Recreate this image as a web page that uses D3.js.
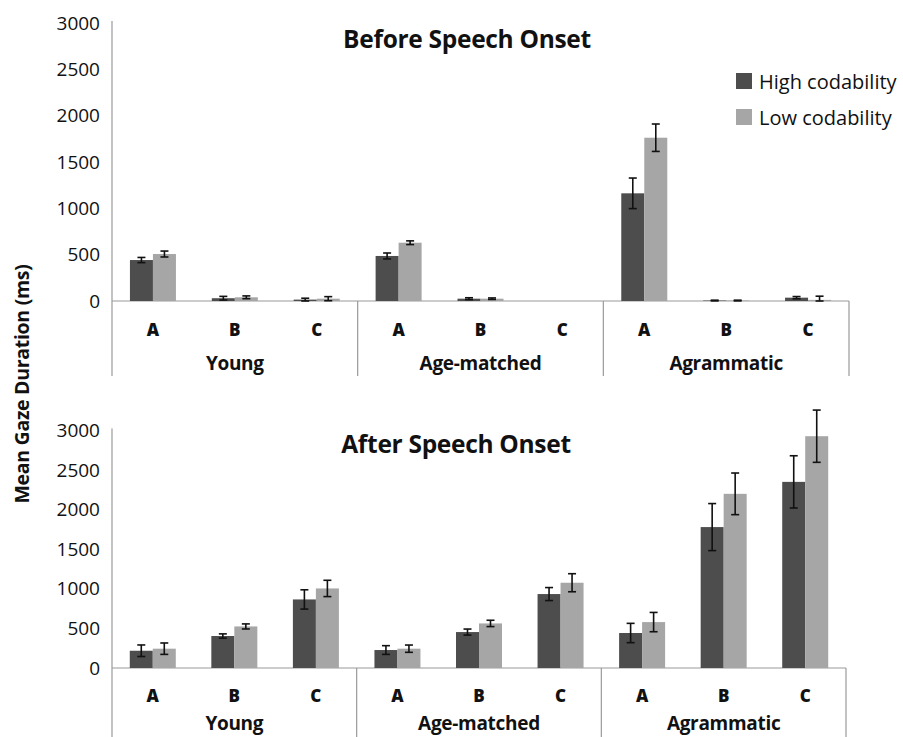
<!DOCTYPE html>
<html>
<head>
<meta charset="utf-8">
<script src="https://cdn.jsdelivr.net/npm/d3@7"></script>
<style>
  body { margin: 0; background: #fff; }
  svg { display: block; }
</style>
</head>
<body>
<svg></svg>
<script>
var width = 903, height = 737;

// data
var groups = ["Young", "Age-matched", "Agrammatic"];
var conds = ["A", "B", "C"];
var seriesNames = ["High codability", "Low codability"];
var yTicks = [0, 500, 1000, 1500, 2000, 2500, 3000];

// before speech onset, order: Young A,B,C / Age-matched A,B,C / Agrammatic A,B,C
var beforeHigh = [442, 30, 15, 486, 25, 0, 1162, 5, 36];
var beforeHighErr = [28, 20, 15, 32, 10, 0, 165, 4, 12];
var beforeLow = [507, 40, 25, 629, 25, 0, 1762, 5, 12];
var beforeLowErr = [32, 15, 22, 20, 8, 0, 148, 4, 40];

// after speech onset
var afterHigh = [218, 404, 866, 227, 454, 934, 442, 1780, 2351];
var afterHighErr = [73, 27, 122, 55, 38, 82, 122, 297, 330];
var afterLow = [244, 525, 1005, 244, 563, 1077, 580, 2200, 2928];
var afterLowErr = [72, 32, 103, 46, 40, 114, 122, 263, 330];

var colors = ["#4d4d4d", "#a6a6a6"];

var svg = d3.select("svg").attr("width", width).attr("height", height);

// the y axis title sits between the two panels
svg.append("text")
  .attr("transform", "translate(21,384) rotate(-90)")
  .attr("text-anchor", "middle")
  .attr("dominant-baseline", "central")
  .style("font-family", "Open Sans")
  .style("font-weight", "bold")
  .style("font-size", "19.5px")
  .style("letter-spacing", "-0.3px")
  .attr("fill", "#111")
  .text("Mean Gaze Duration (ms)");

function panel(opt) {
  var g = svg.append("g");

  var y = d3.scaleLinear().domain([0, 3000]).range([opt.y0, opt.y3000]);

  var keys = [];
  groups.forEach(function(gr) {
    conds.forEach(function(c) { keys.push(gr + "|" + c); });
  });

  var x = d3.scaleBand().domain(keys).range([opt.left, opt.right]);
  // two bars of ~23px in a band of ~82px
  var xs = d3.scaleBand().domain([0, 1]).range([0, x.bandwidth()])
    .paddingInner(0).paddingOuter((x.bandwidth() - 46) / 2 / 23);

  var lineCol = "#9a9a9a";

  // y axis
  var yAxis = d3.axisLeft(y).tickValues(yTicks).tickFormat(d3.format("d")).tickSize(0).tickPadding(12);
  var ya = g.append("g").attr("transform", "translate(" + opt.left + ",0)").call(yAxis);
  ya.select(".domain").remove();
  ya.selectAll("text")
    .style("font-family", "Open Sans")
    .style("font-size", "19px")
    .attr("fill", "#111");

  g.append("line")
    .attr("x1", opt.left).attr("x2", opt.left)
    .attr("y1", y(3000) - 2).attr("y2", opt.bottom)
    .attr("stroke", lineCol).attr("stroke-width", 1.2);

  // baseline
  g.append("line")
    .attr("x1", opt.left).attr("x2", opt.right)
    .attr("y1", y(0)).attr("y2", y(0))
    .attr("stroke", lineCol).attr("stroke-width", 1.2);

  // group separators
  groups.forEach(function(gr, i) {
    if (i == 0) return;
    var xx = x(gr + "|A");
    g.append("line")
      .attr("x1", xx).attr("x2", xx)
      .attr("y1", y(0)).attr("y2", opt.bottom)
      .attr("stroke", lineCol).attr("stroke-width", 1.2);
  });
  g.append("line")
    .attr("x1", opt.right).attr("x2", opt.right)
    .attr("y1", y(0)).attr("y2", opt.bottom)
    .attr("stroke", lineCol).attr("stroke-width", 1.2);

  // bars
  var series = [opt.high, opt.low];
  var errs = [opt.highErr, opt.lowErr];
  series.forEach(function(vals, s) {
    var rows = keys.map(function(k, i) { return { key: k, v: vals[i], e: errs[s][i] }; });

    g.append("g").selectAll("rect")
      .data(rows.filter(function(d) { return d.v > 0; }))
      .enter().append("rect")
      .attr("x", function(d) { return x(d.key) + xs(s); })
      .attr("y", function(d) { return y(d.v); })
      .attr("width", xs.bandwidth())
      .attr("height", function(d) { return y(0) - y(d.v); })
      .attr("fill", colors[s]);

    var eb = g.append("g").selectAll("g")
      .data(rows.filter(function(d) { return d.v > 0; }))
      .enter().append("g")
      .attr("stroke", "#111")
      .attr("stroke-width", 1.6);
    var cx = function(d) { return x(d.key) + xs(s) + xs.bandwidth() / 2; };
    eb.append("line")
      .attr("x1", cx).attr("x2", cx)
      .attr("y1", function(d) { return y(d.v + d.e); })
      .attr("y2", function(d) { return y(Math.max(0, d.v - d.e)); });
    eb.append("line")
      .attr("x1", function(d) { return cx(d) - 4; }).attr("x2", function(d) { return cx(d) + 4; })
      .attr("y1", function(d) { return y(d.v + d.e); })
      .attr("y2", function(d) { return y(d.v + d.e); });
    eb.append("line")
      .attr("x1", function(d) { return cx(d) - 4; }).attr("x2", function(d) { return cx(d) + 4; })
      .attr("y1", function(d) { return y(Math.max(0, d.v - d.e)); })
      .attr("y2", function(d) { return y(Math.max(0, d.v - d.e)); });
  });

  // category labels
  g.append("g").selectAll("text")
    .data(keys)
    .enter().append("text")
    .attr("x", function(k) { return x(k) + x.bandwidth() / 2; })
    .attr("y", opt.catY)
    .attr("text-anchor", "middle")
    .attr("dominant-baseline", "central")
    .style("font-family", "Open Sans")
    .style("font-weight", "800")
    .style("font-size", "17px")
    .attr("fill", "#111")
    .text(function(k) { return k.split("|")[1]; });

  // group labels
  g.append("g").selectAll("text")
    .data(groups)
    .enter().append("text")
    .attr("x", function(gr) { return x(gr + "|B") + x.bandwidth() / 2; })
    .attr("y", opt.groupY)
    .attr("text-anchor", "middle")
    .attr("dominant-baseline", "central")
    .style("font-family", "Open Sans")
    .style("font-weight", "bold")
    .style("font-size", "19px")
    .style("letter-spacing", "-0.3px")
    .attr("fill", "#111")
    .text(function(gr) { return gr; });

  // title
  g.append("text")
    .attr("x", opt.titleX)
    .attr("y", opt.titleY)
    .attr("text-anchor", "middle")
    .attr("dominant-baseline", "central")
    .style("font-family", "Open Sans")
    .style("font-weight", "bold")
    .style("font-size", "24.5px")
    .style("letter-spacing", "-0.3px")
    .attr("fill", "#111")
    .text(opt.title);
}

panel({
  title: "Before Speech Onset", titleX: 467, titleY: 38,
  left: 112, right: 849, y0: 301, y3000: 23, bottom: 376,
  catY: 329, groupY: 363,
  high: beforeHigh, highErr: beforeHighErr, low: beforeLow, lowErr: beforeLowErr
});

panel({
  title: "After Speech Onset", titleX: 456, titleY: 443,
  left: 112, right: 846, y0: 668, y3000: 430.5, bottom: 740,
  catY: 695, groupY: 723,
  high: afterHigh, highErr: afterHighErr, low: afterLow, lowErr: afterLowErr
});

// legend
var legend = svg.append("g").selectAll("g")
  .data(seriesNames)
  .enter().append("g")
  .attr("transform", function(d, i) { return "translate(736," + (73 + i * 36) + ")"; });
legend.append("rect")
  .attr("width", 16).attr("height", 16)
  .attr("fill", function(d, i) { return colors[i]; });
legend.append("text")
  .attr("x", 23).attr("y", 8)
  .attr("dominant-baseline", "central")
  .style("font-family", "Open Sans")
  .style("font-size", "20px")
  .attr("fill", "#111")
  .text(function(d) { return d; });
</script>
</body>
</html>
